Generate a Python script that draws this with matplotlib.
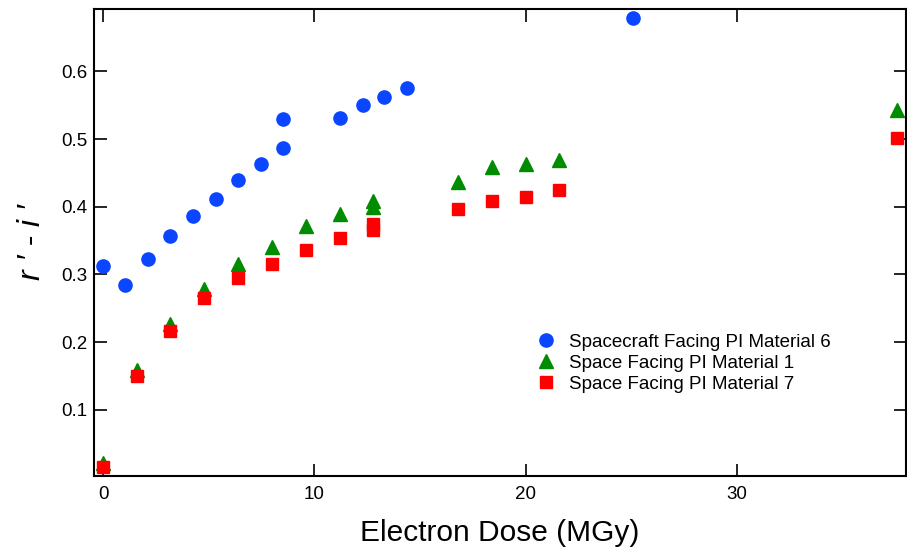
import matplotlib.pyplot as plt

plt.rcParams['font.family'] = ['Liberation Sans', 'DejaVu Sans']

# --- data ---
dose_pi6 = [0, 1.04, 2.13, 3.17, 4.26, 5.34, 6.38, 7.47, 8.51, 8.51, 11.2, 12.3, 13.3, 14.4, 25.1]
ri_pi6 = [0.312, 0.284, 0.323, 0.357, 0.386, 0.411, 0.439, 0.463, 0.486, 0.530,
          0.531, 0.550, 0.562, 0.575, 0.679]

dose_pi1 = [0, 1.6, 3.17, 4.8, 6.38, 8.0, 9.6, 11.2, 12.8, 12.8, 16.8, 18.4, 20.0, 21.6, 37.6]
ri_pi1 = [0.021, 0.158, 0.226, 0.279, 0.315, 0.341, 0.371, 0.389, 0.408, 0.400,
          0.437, 0.458, 0.463, 0.469, 0.543]

dose_pi7 = [0, 1.6, 3.17, 4.8, 6.38, 8.0, 9.6, 11.2, 12.8, 12.8, 16.8, 18.4, 20.0, 21.6, 37.6]
ri_pi7 = [0.016, 0.150, 0.216, 0.265, 0.295, 0.316, 0.336, 0.353, 0.374, 0.366,
          0.397, 0.408, 0.414, 0.424, 0.501]

labels = ["Spacecraft Facing PI Material 6", "Space Facing PI Material 1", "Space Facing PI Material 7"]

# --- plot ---
fig = plt.figure(figsize=(9.07, 5.48), dpi=100)
ax = fig.add_axes([0.1036, 0.1314, 0.895, 0.852])

ax.plot(dose_pi6, ri_pi6, 'o', color='#0a46ff', markersize=9.5, label=labels[0], linestyle='none')
ax.plot(dose_pi1, ri_pi1, '^', color='#008c00', markersize=10, label=labels[1], linestyle='none')
ax.plot(dose_pi7, ri_pi7, 's', color='#ff0000', markersize=8.5, label=labels[2], linestyle='none')

ax.set_xlim(-0.43, 38.0)
ax.set_ylim(0.002, 0.692)
ax.set_xticks([0, 10, 20, 30])
ax.set_yticks([0.1, 0.2, 0.3, 0.4, 0.5, 0.6])

ax.tick_params(direction='in', length=9, width=1.2, top=True, right=True, labelsize=13.5, pad=5)
ax.tick_params(axis='x', pad=7)
for s in ax.spines.values():
    s.set_linewidth(1.5)

ax.set_xlabel("Electron Dose (MGy)", fontsize=21.5, labelpad=12)
ax.set_ylabel("r ′ - i ′", fontsize=23, style='italic', labelpad=10)

ax.legend(loc='upper left', bbox_to_anchor=(0.523, 0.333), frameon=False, fontsize=13.5,
          handletextpad=0.5, labelspacing=0.2, borderpad=0.2, handlelength=1.5)

fig.savefig("out.png", dpi=100)
